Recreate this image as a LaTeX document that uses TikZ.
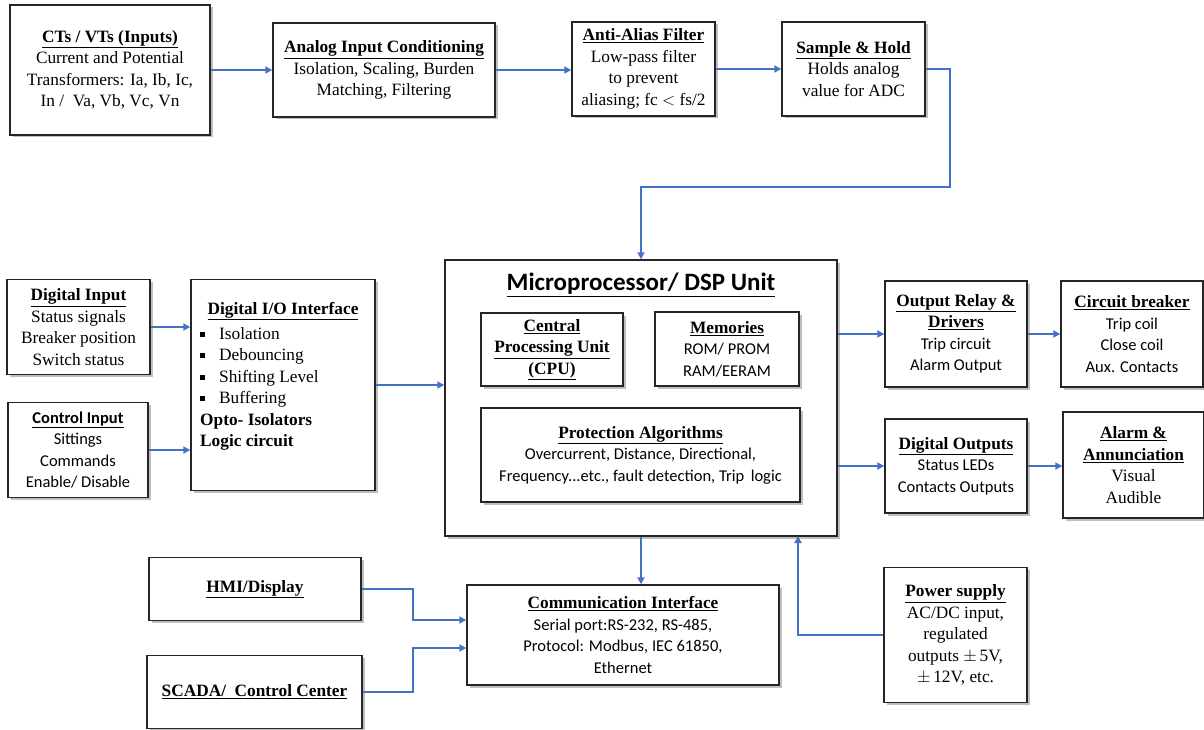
\documentclass[tikz,border=0pt]{standalone}
\usepackage{fontspec}
\setmainfont{Liberation Serif}
\newfontfamily\calib{Carlito}
\usetikzlibrary{arrows.meta,shadows,calc}

\definecolor{linkblue}{RGB}{68,114,196}

\tikzset{
  box/.style={draw=black!85, line width=1.4pt, fill=white, align=center, inner sep=0pt,
    font=\fontsize{17.3}{21.5}\selectfont,
    drop shadow={shadow xshift=2.5pt, shadow yshift=-2.5pt, fill=black!50, opacity=0.5}},
  plain/.style={align=center, inner sep=0pt, font=\fontsize{17.3}{21.5}\selectfont},
  link/.style={draw=linkblue, line width=2pt, -{Triangle[length=7pt,width=7pt]}},
}
\newcommand\hd[1]{\underline{\textbf{#1}}}
\newcommand\sq{\makebox[19pt][l]{\raisebox{2.5pt}{\rule{5pt}{5pt}}}}
\newcommand\cb{\calib\fontsize{16.5}{21.5}\selectfont}

\begin{document}
\begin{tikzpicture}[x=1pt,y=-1pt]
\useasboundingbox (0,0) rectangle (1204,730);

% ---- analog acquisition chain
\node[box, minimum width=200, minimum height=130] (ct) at (110,70)
  {\hd{CTs / VTs (Inputs)}\\Current and Potential\\Transformers: Ia, Ib, Ic,\\In /\enspace Va, Vb, Vc, Vn};
\node[box, minimum width=222, minimum height=94] (aic) at (384,70)
  {\hd{Analog Input Conditioning}\\Isolation, Scaling, Burden\\Matching, Filtering};
\node[box, minimum width=143, minimum height=94] (aaf) at (643.5,69)
  {\hd{Anti-Alias Filter}\\Low-pass filter\\to prevent\\aliasing; fc $<$ fs/2};
\node[box, minimum width=143, minimum height=94] (sh) at (853.5,69)
  {\hd{Sample \& Hold}\\Holds analog\\value for ADC};

% ---- digital inputs
\node[box, minimum width=143, minimum height=95] (din) at (78.5,327)
  {\hd{Digital Input}\\Status signals\\Breaker position\\Switch status};
\node[box, minimum width=140, minimum height=95, font=\cb] (cin) at (78,450)
  {\hd{Control Input}\\Sittings\\Commands\\Enable/ Disable};
\node[box, minimum width=184, minimum height=211] (dio) at (283,385) {};
\node[plain] (diotitle) at (283,311) {\hd{Digital I/O Interface}};
\node[plain, align=left, anchor=north west] (diolist) at (200,327)
  {\sq Isolation\\\sq Debouncing\\\sq Shifting Level\\\sq Buffering\\\textbf{Opto- Isolators}\\\textbf{Logic circuit}};

% ---- processing unit
\node[box, minimum width=392, minimum height=276] (mpu) at (641,398) {};
\node[plain, font=\calib\bfseries\fontsize{25}{30}\selectfont] (mputitle) at (641,285)
  {\underline{Microprocessor/ DSP Unit}};
\node[box, minimum width=142, minimum height=73] (cpu) at (552,349.5)
  {\hd{Central}\\\hd{Processing Unit}\\\hd{(CPU)}};
\node[box, minimum width=144, minimum height=74] (mem) at (727,349)
  {\hd{Memories}\\{\cb ROM/ PROM}\\{\cb RAM/EERAM}};
\node[box, minimum width=319, minimum height=94] (alg) at (640.5,455)
  {\hd{Protection Algorithms}\\{\cb Overcurrent, Distance, Directional,}\\{\cb Frequency...etc., fault detection, Trip\, logic}};

% ---- outputs
\node[box, minimum width=142, minimum height=106] (orel) at (956,334)
  {\hd{Output Relay \&}\\\hd{Drivers}\\{\cb Trip circuit}\\{\cb Alarm Output}};
\node[box, minimum width=142, minimum height=106] (brk) at (1132,334)
  {\hd{Circuit breaker}\\{\cb Trip coil}\\{\cb Close coil}\\{\cb Aux. Contacts}};
\node[box, minimum width=142, minimum height=94] (dout) at (956,466)
  {\hd{Digital Outputs}\\{\cb Status LEDs}\\{\cb Contacts Outputs}};
\node[box, minimum width=141, minimum height=106] (alarm) at (1133.5,465)
  {\hd{Alarm \&}\\\hd{Annunciation}\\Visual\\Audible};

% ---- communication and supply
\node[box, minimum width=212, minimum height=63] (hmi) at (255,589) {\hd{HMI/Display}};
\node[box, minimum width=215, minimum height=73] (scada) at (254.5,692) {\hd{SCADA/\enspace Control Center}};
\node[box, minimum width=312, minimum height=100] (comm) at (623,635)
  {\hd{Communication Interface}\\{\cb Serial port:RS-232, RS-485,}\\{\cb Protocol: Modbus, IEC 61850,}\\{\cb Ethernet}};
\node[box, minimum width=143, minimum height=135] (pwr) at (955.5,635)
  {\hd{Power supply}\\AC/DC input,\\regulated\\outputs $\pm$\,5V,\\$\pm$\,12V, etc.};

% ---- connectors
\coordinate (shbend) at (950,187);
\coordinate (hmibend) at (413,620);
\coordinate (scbend) at (413,648);
\coordinate (pwrbend) at (798,536);

\draw[link] (ct.east) -- (ct.east -| aic.west);
\draw[link] (aic.east) -- (aic.east -| aaf.west);
\draw[link] (aaf.east) -- (aaf.east -| sh.west);
\draw[link] (sh.east) -| (shbend) -| (mpu.north);

\draw[link] (din.east) -- (din.east -| dio.west);
\draw[link] (cin.east) -- (cin.east -| dio.west);
\draw[link] (dio.east) -- (dio.east -| mpu.west);

\draw[link] (mpu.east |- orel.west) -- (orel.west);
\draw[link] (orel.east) -- (orel.east -| brk.west);
\draw[link] (mpu.east |- dout.west) -- (dout.west);
\draw[link] (dout.east) -- (dout.east -| alarm.west);

\draw[link] (mpu.south) -- (mpu.south |- comm.north);
\draw[link] (hmi.east) -| (hmibend) -- (hmibend -| comm.west);
\draw[link] (scada.east) -| (scbend) -- (scbend -| comm.west);
\draw[link] (pwr.west) -| (pwrbend);
\end{tikzpicture}
\end{document}
